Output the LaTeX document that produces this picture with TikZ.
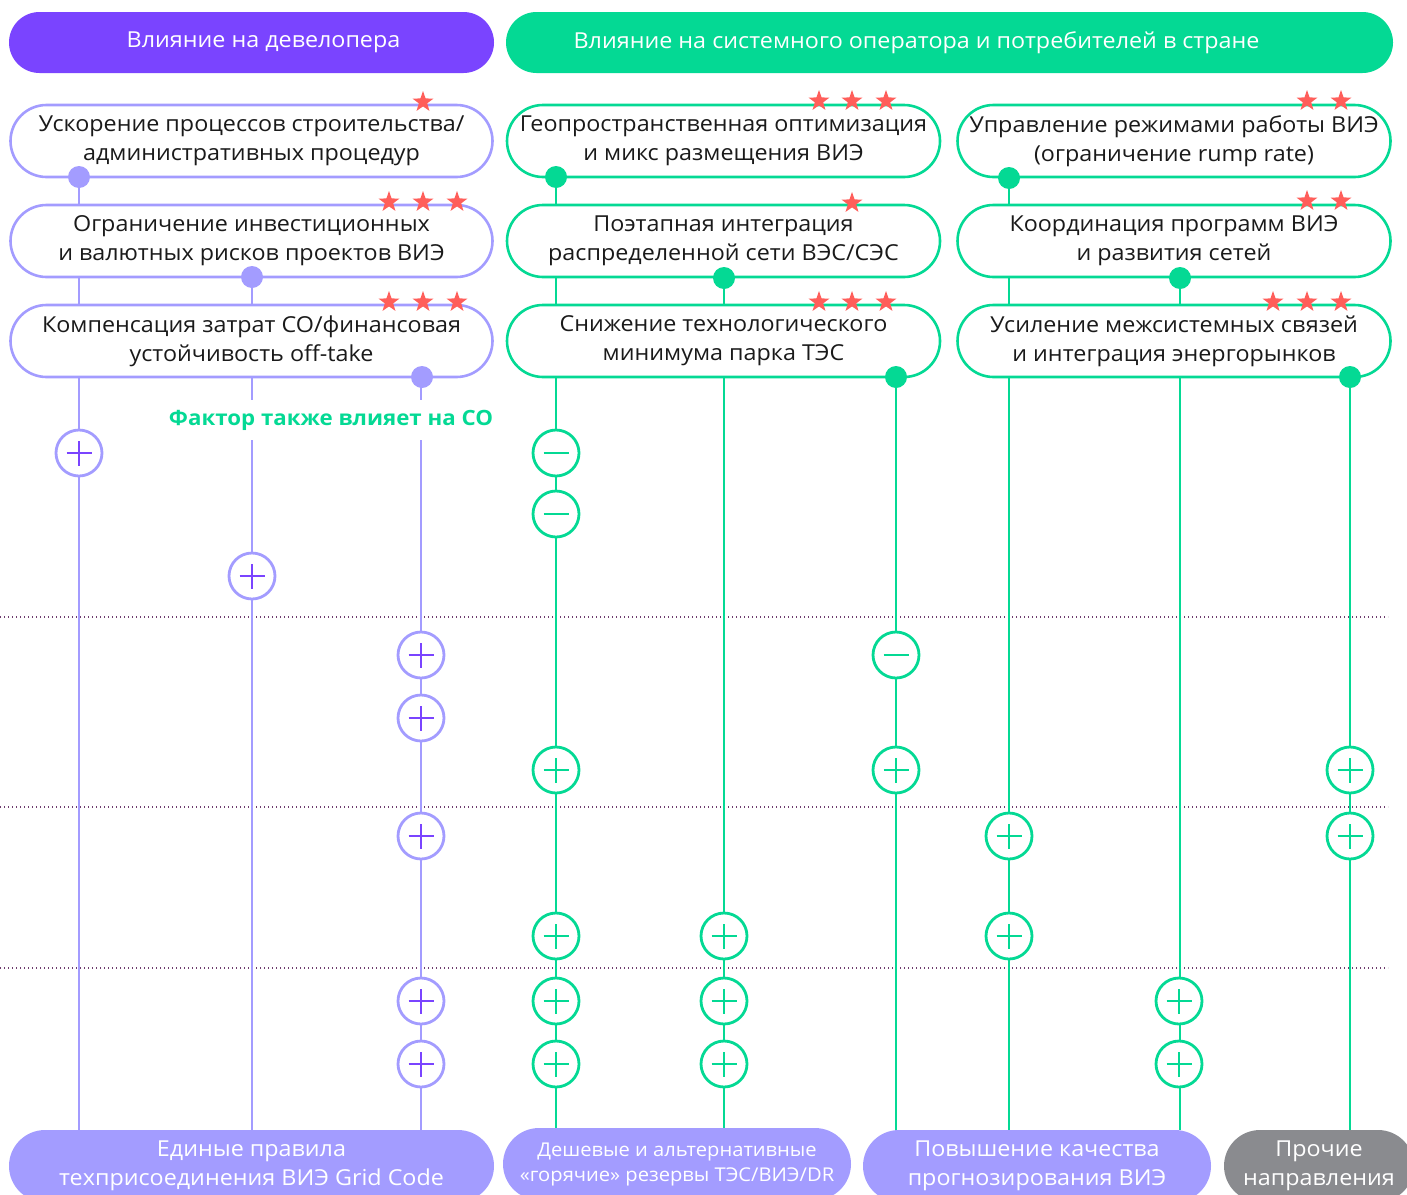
\documentclass[tikz,border=0pt]{standalone}
\usepackage{fontspec}
\setmainfont{Open Sans}[FakeStretch=1.06]
\usetikzlibrary{shapes.misc,shapes.geometric}

\definecolor{devpurple}{RGB}{122,68,255}
\definecolor{lilac}{RGB}{163,156,255}
\definecolor{mint}{RGB}{4,217,148}
\definecolor{starred}{RGB}{255,94,90}
\definecolor{slate}{RGB}{138,139,143}
\definecolor{gridline}{RGB}{110,60,110}
\definecolor{ink}{RGB}{26,26,26}

\pgfdeclarelayer{bg}
\pgfsetlayers{bg,main}

% plus and minus marks drawn inside the sign circles
\newcommand\signbar[1]{\draw[#1,line width=2.6pt]
  ([xshift=-12.5pt]path picture bounding box.center) --
  ([xshift=12.5pt]path picture bounding box.center);}
\newcommand\signcross[1]{\signbar{#1}\draw[#1,line width=2.6pt]
  ([yshift=-12.5pt]path picture bounding box.center) --
  ([yshift=12.5pt]path picture bounding box.center);}

\begin{document}
\begin{tikzpicture}[x=1pt,y=-1pt,
  header/.style={rounded rectangle, minimum height=61pt, inner sep=0pt,
    fill=#1, text=white, font=\fontsize{22}{26}\selectfont},
  factor/.style={rounded rectangle, draw=#1, line width=2.6pt, fill=white,
    minimum height=72pt, inner sep=0pt, text=ink, align=center,
    font=\fontsize{22}{29}\selectfont},
  outcome/.style={rounded rectangle, fill=#1, minimum height=72pt,
    inner sep=0pt, text=white, align=center,
    font=\fontsize{22}{29}\selectfont},
  starmark/.style={star, star points=5, star point ratio=2.5,
    minimum size=22pt, inner sep=0pt, fill=starred},
  dot/.style={circle, minimum size=22pt, inner sep=0pt, fill=#1},
  link/.style={draw=#1, line width=2.8pt},
  sign/.style={circle, minimum size=46pt, inner sep=0pt, fill=white,
    draw=#1, line width=2.8pt},
  plusL/.style={sign=lilac, path picture={\signcross{devpurple}}},
  plusG/.style={sign=mint, path picture={\signcross{mint}}},
  minusG/.style={sign=mint, path picture={\signbar{mint}}},
  grid/.style={draw=gridline, line width=1.2pt, dash pattern=on 1.4pt off 2.6pt}
]
\clip (0,0) rectangle (1407,1194);

% column headers
\node[header=devpurple, minimum width=485pt] (hdev) at (251.5,42.5)
  {\hspace*{24pt}Влияние на девелопера};
\node[header=mint, minimum width=887pt] (hsys) at (949.5,42.5)
  {Влияние на системного оператора и потребителей в стране\hspace*{66pt}};

% factors: developer side
\node[factor=lilac, minimum width=482pt] (L1) at (251.5,141)
  {Ускорение процессов строительства/\\административных процедур};
\node[factor=lilac, minimum width=482pt] (L2) at (251.5,241)
  {Ограничение инвестиционных\\и валютных рисков проектов ВИЭ};
\node[factor=lilac, minimum width=482pt] (L3) at (251.5,341)
  {Компенсация затрат СО/финансовая\\устойчивость off-take};

% factors: system operator side
\node[factor=mint, minimum width=433pt] (M1) at (723.5,141)
  {Геопространственная оптимизация\\и микс размещения ВИЭ};
\node[factor=mint, minimum width=433pt] (M2) at (723.5,241)
  {Поэтапная интеграция\\распределенной сети ВЭС/СЭС};
\node[factor=mint, minimum width=433pt] (M3) at (723.5,341)
  {Снижение технологического\\минимума парка ТЭС};
\node[factor=mint, minimum width=433pt] (R1) at (1174,141)
  {Управление режимами работы ВИЭ\\(ограничение rump rate)};
\node[factor=mint, minimum width=433pt] (R2) at (1174,241)
  {Координация программ ВИЭ\\и развития сетей};
\node[factor=mint, minimum width=433pt] (R3) at (1174,341)
  {Усиление межсистемных связей\\и интеграция энергорынков};

% priority stars
\node[starmark] (sa1) at (423,102) {};
\foreach \x [count=\i] in {389,423,457}{
  \node[starmark] (sb\i) at (\x,202) {};
  \node[starmark] (sc\i) at (\x,302) {};}
\foreach \x [count=\i] in {819,852,886}{
  \node[starmark] (sd\i) at (\x,101) {};
  \node[starmark] (sf\i) at (\x,302) {};}
\node[starmark] (se1) at (852,203) {};
\foreach \x [count=\i] in {1307,1341}{
  \node[starmark] (sg\i) at (\x,101) {};
  \node[starmark] (sh\i) at (\x,201) {};}
\foreach \x [count=\i] in {1273,1307,1341}{
  \node[starmark] (si\i) at (\x,302) {};}

% outgoing ports
\node[dot=lilac] (pL1) at (79,177) {};
\node[dot=lilac] (pL2) at (252,277) {};
\node[dot=lilac] (pL3) at (422,377) {};
\node[dot=mint] (pM1) at (556,177) {};
\node[dot=mint] (pM2) at (724,278) {};
\node[dot=mint] (pM3) at (896,377) {};
\node[dot=mint] (pR1) at (1009,178) {};
\node[dot=mint] (pR2) at (1180,278) {};
\node[dot=mint] (pR3) at (1350,377) {};

% outcomes
\node[outcome=lilac, minimum width=485pt] (gc) at (251.5,1166)
  {Единые правила\\техприсоединения ВИЭ Grid Code};
\node[outcome=lilac, minimum width=348pt, font=\fontsize{19}{25}\selectfont] (res) at (677,1164)
  {Дешевые и альтернативные\\«горячие» резервы ТЭС/ВИЭ/DR};
\node[outcome=lilac, minimum width=348pt] (fc) at (1037,1166)
  {Повышение качества\\прогнозирования ВИЭ};
\node[outcome=slate, minimum width=190pt] (oth) at (1319,1166)
  {Прочие\\направления};

% guide lines and connectors
\begin{pgfonlayer}{bg}
  \foreach \y in {617,807,968}{\draw[grid] (0,\y) -- (1388,\y);}
  \draw[link=lilac] (pL1) -- (pL1 |- gc.north);
  \draw[link=lilac] (pL2) -- (pL2 |- gc.north);
  \draw[link=lilac] (pL3.center) ++(-1,0) coordinate (qL3) -- (qL3 |- gc.north);
  \draw[link=mint] (pM1) -- (pM1 |- res.north);
  \draw[link=mint] (pM2) -- (pM2 |- res.north);
  \draw[link=mint] (pM3) -- (pM3 |- fc.north);
  \draw[link=mint] (pR1) -- (pR1 |- fc.north);
  \draw[link=mint] (pR2) -- (pR2 |- fc.north);
  \draw[link=mint] (pR3) -- (pR3 |- oth.north);
\end{pgfonlayer}

% note on the shared factor
\node[fill=white, inner xsep=1pt, inner ysep=10pt, text=mint,
  font=\fontsize{21}{26}\selectfont\bfseries] (note) at (331,420)
  {Фактор также влияет на СО};

% effects along each connector
\node[plusL] (eL1) at (79,453) {};
\node[plusL] (eL2) at (252,576) {};
\foreach \y [count=\i] in {655,718,836,1001,1064}{
  \node[plusL] (eL3\i) at (421,\y) {};}
\node[minusG] (eM1a) at (556,453) {};
\node[minusG] (eM1b) at (556,514) {};
\foreach \y [count=\i] in {770,936,1001,1064}{
  \node[plusG] (eM1\i) at (556,\y) {};}
\foreach \y [count=\i] in {936,1001,1064}{
  \node[plusG] (eM2\i) at (724,\y) {};}
\node[minusG] (eM3a) at (896,655) {};
\node[plusG] (eM3b) at (896,770) {};
\node[plusG] (eR1a) at (1009,836) {};
\node[plusG] (eR1b) at (1009,936) {};
\node[plusG] (eR2a) at (1179,1001) {};
\node[plusG] (eR2b) at (1179,1064) {};
\node[plusG] (eR3a) at (1350,770) {};
\node[plusG] (eR3b) at (1350,836) {};
\end{tikzpicture}
\end{document}
